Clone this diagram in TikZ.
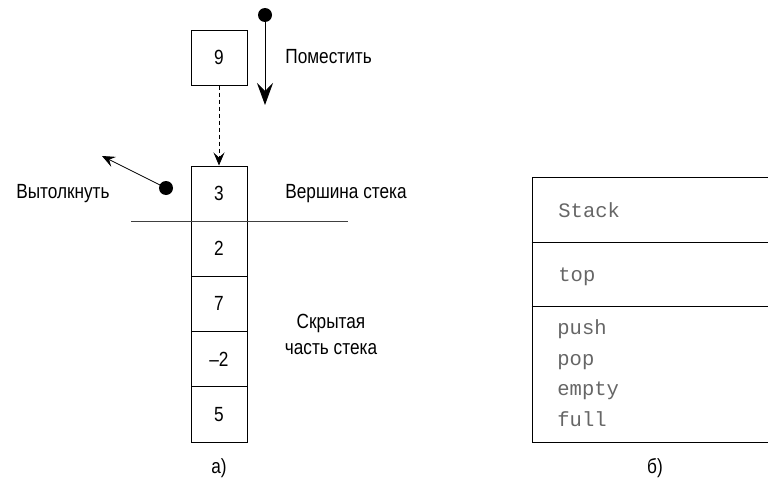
\documentclass[tikz,border=0pt]{standalone}
\usepackage{fontspec}
\setmainfont{Liberation Sans}[FakeStretch=0.84]
\setmonofont{Liberation Mono}
\usetikzlibrary{arrows.meta}
\begin{document}
\begin{tikzpicture}[x=1pt,y=-1pt,
  line width=0.8pt,
  cell/.style={draw,rectangle,minimum width=56pt,minimum height=55.2pt,inner sep=0pt,font=\fontsize{20.5}{22}\selectfont},
  lbl/.style={font=\fontsize{20.5}{26}\selectfont,inner sep=0pt},
  code/.style={font=\ttfamily\fontsize{20.5}{22}\selectfont,text=black!60,inner sep=0pt,anchor=base west},
  dot/.style={circle,fill,inner sep=0pt,minimum size=14pt},
  bigtip/.style={-{Stealth[length=22pt,width=16pt,inset=8pt]}},
  smalltip/.style={-{Stealth[length=13pt,width=11pt,inset=5pt]}}]
\useasboundingbox (0,0) rectangle (768,479);

% incoming element
\node[cell] (nine) at (219,57.5) {9};

% stack cells, top first
\node[cell] (c3) at (219,193.5) {3};
\node[cell] (c2) at (219,248.7) {2};
\node[cell] (c7) at (219,303.9) {7};
\node[cell] (cm2) at (219,359.1) {–2};
\node[cell] (c5) at (219,414.3) {5};

% boundary below the top cell
\coordinate (sepL) at (131,221);
\coordinate (sepR) at (348,221);
\draw[black!75] (sepL) -- (sepR);

% push
\node[dot] (pushdot) at (265,15) {};
\coordinate (pushend) at (265,105);
\draw[bigtip] (pushdot.center) -- (pushend);
\node[lbl,anchor=west] (pushlbl) at (285,57) {Поместить};
\draw[dashed,dash pattern=on 4pt off 3pt,smalltip] (nine.south) -- (c3.north);

% pop
\node[dot] (popdot) at (166,188) {};
\coordinate (popend) at (102,156);
\draw[smalltip] (popdot.center) -- (popend);
\node[lbl,anchor=east] (poplbl) at (110,194) {Вытолкнуть};

\node[lbl,anchor=west] (toplbl) at (285,194) {Вершина стека};
\node[lbl,align=center] (hidden) at (331,334) {Скрытая\\часть стека};

\node[lbl,anchor=base] (capa) at (219,473) {а)};

% class box
\node[draw,rectangle,inner sep=0pt,minimum width=260pt,minimum height=265pt,anchor=north west] (cls) at (531.5,177) {};
\coordinate (d1L) at (531.5,242);
\coordinate (d1R) at (800,242);
\coordinate (d2L) at (531.5,306);
\coordinate (d2R) at (800,306);
\draw (d1L) -- (d1R);
\draw (d2L) -- (d2R);
\node[code] (cname) at (558,217) {Stack};
\node[code] (cattr) at (558,281) {top};
\node[code] (m1) at (557,334) {push};
\node[code] (m2) at (557,365) {pop};
\node[code] (m3) at (557,395) {empty};
\node[code] (m4) at (557,426) {full};

\node[lbl,anchor=base] (capb) at (655,473) {б)};
\end{tikzpicture}
\end{document}
